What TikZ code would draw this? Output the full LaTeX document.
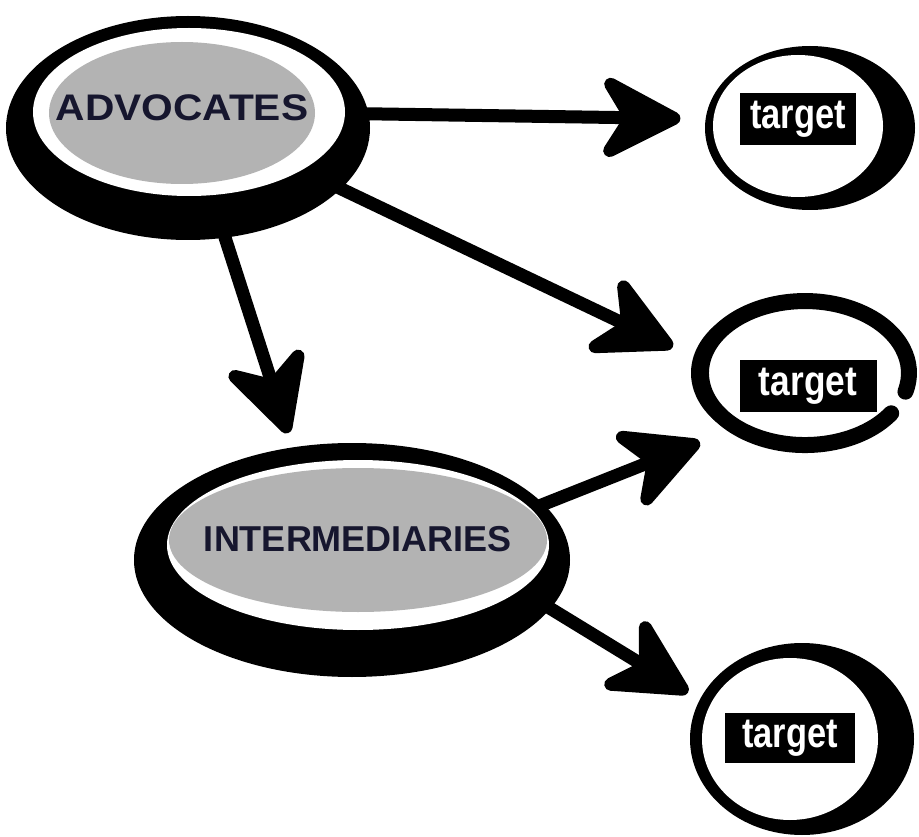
\documentclass[tikz,border=0pt]{standalone}
\usepackage{fontspec}
\usepackage{graphicx}
\setmainfont{Liberation Sans}
\usetikzlibrary{arrows.meta,shapes.geometric}
\pgfdeclarelayer{bg}
\pgfsetlayers{bg,main}
\definecolor{blobgray}{HTML}{B3B3B3}
\definecolor{navyink}{HTML}{16162E}
\newcommand{\coretext}[2]{\smash{\raisebox{#1}{\makebox[0pt]{#2}}}}
\tikzset{
  core/.style={ellipse, fill=blobgray, inner sep=0pt, text=navyink,
    font=\fontsize{36}{40}\selectfont\bfseries},
  ringnode/.style={ellipse, inner sep=0pt},
  tlabel/.style={fill=black, text=white, inner sep=0pt,
    font=\fontsize{42}{44}\selectfont\bfseries},
  bigarrow/.style={line width=13pt, line cap=round,
    -{Stealth[length=95pt,width=98pt,inset=30pt,round]}},
  ringline/.style={line width=16pt, line cap=round},
}
\begin{document}
\begin{tikzpicture}[x=1pt,y=-1pt]
\useasboundingbox (0,0) rectangle (919,837);
% ADVOCATES blob
\fill[black] (188,128) ellipse [x radius=182, y radius=112];
\fill[white] (189,112) ellipse [x radius=156, y radius=84];
\node[core, minimum width=266pt, minimum height=142pt] (adv) at (182,113)
  {\coretext{-8pt}{\scalebox{1.1}[1]{\fontsize{37}{40}\selectfont ADVOCATES}}};
% INTERMEDIARIES blob
\fill[black] (352,560) ellipse [x radius=218, y radius=117];
\fill[white] (358,545) ellipse [x radius=191, y radius=85];
\node[core, minimum width=378pt, minimum height=144pt] (inter) at (358,540)
  {\coretext{-11pt}{INTERMEDIARIES}};
% target 1
\node[ringnode, fill=black, minimum width=210pt, minimum height=164pt] (t1) at (810,128) {};
\fill[white] (798,126) ellipse [x radius=85, y radius=71];
\node[tlabel, minimum width=116pt, minimum height=52pt] (t1l) at (798,119)
  {\scalebox{0.82}[1]{target}};
% target 2
\node[ringnode, minimum width=224pt, minimum height=160pt] (t2) at (805,373) {};
\draw[ringline] (891.2,413.3) arc [start angle=34, end angle=375, x radius=104, y radius=72];
\draw[line width=8pt, line cap=round] (747,435.4) arc [start angle=120, end angle=240, x radius=104, y radius=72];
\node[tlabel, minimum width=137pt, minimum height=52pt] (t2l) at (808,386)
  {\scalebox{0.84}[1]{target}};
% target 3
\node[ringnode, fill=black, minimum width=224pt, minimum height=192pt] (t3) at (802,739) {};
\fill[white] (790,739) ellipse [x radius=88, y radius=81];
\node[tlabel, minimum width=130pt, minimum height=50pt] (t3l) at (790,738)
  {\scalebox{0.82}[1]{target}};
% arrows
\begin{pgfonlayer}{bg}
\draw[bigarrow, shorten >=25pt] (adv.east) -- (t1.175);
\draw[bigarrow, shorten >=24.5pt] (adv) -- (t2.172);
\draw[bigarrow, shorten >=40pt] (adv.-70) -- (inter.130);
\draw[bigarrow, shorten >=30pt] (inter.10) -- (t2.217);
\draw[bigarrow, shorten >=13.6pt] (inter.-16) -- (t3.159);
\end{pgfonlayer}
\end{tikzpicture}
\end{document}
